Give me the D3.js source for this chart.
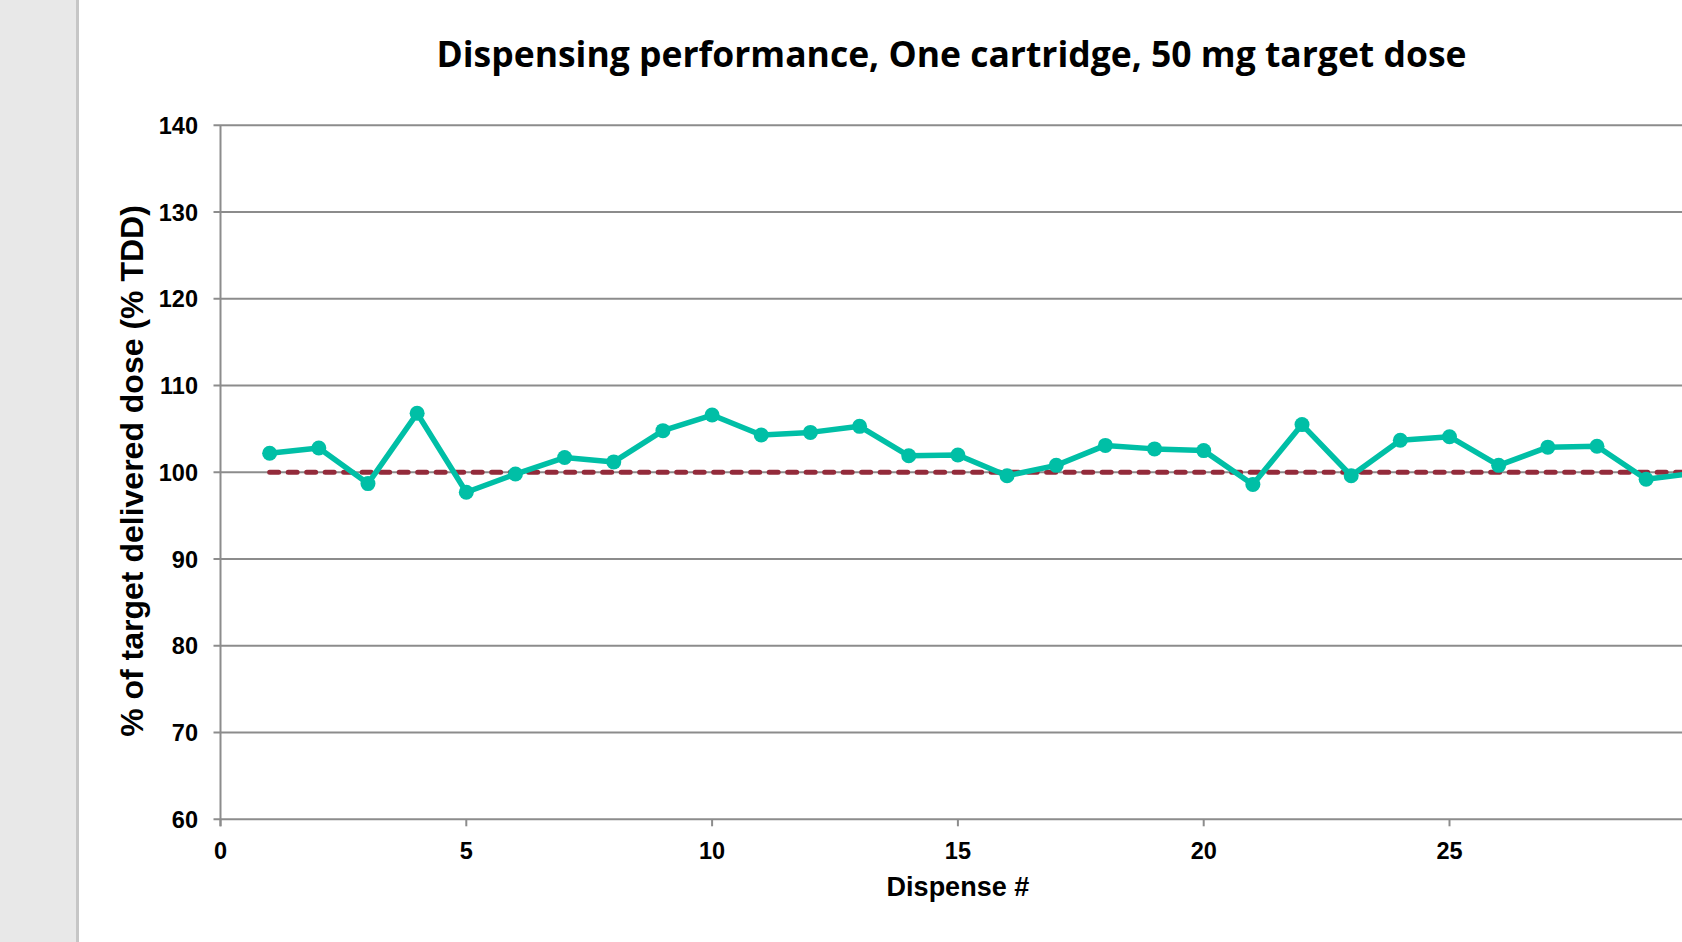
<!DOCTYPE html>
<html>
<head>
  <meta charset="utf-8">
  <style type="text/css">
      body {
        margin: 0;
        background-color: #ffffff;
      }
      svg {
        display: block;
      }
      .tick-label {
        font-family: "Liberation Sans", Arial, sans-serif;
        font-weight: bold;
        font-size: 23.5px;
        fill: #000000;
      }
  </style>
  <script src="https://d3js.org/d3.v7.min.js"></script>
</head>
<body>
  <script type="text/javascript">
      "use strict";

      /*
        Chart data
      */
      var dispenseNo = [1, 2, 3, 4, 5, 6, 7, 8, 9, 10,
                        11, 12, 13, 14, 15, 16, 17, 18, 19, 20,
                        21, 22, 23, 24, 25, 26, 27, 28, 29, 30];
      var pctTDD = [102.2, 102.8, 98.7, 106.8, 97.7, 99.8, 101.7, 101.2, 104.8, 106.6,
                    104.3, 104.6, 105.3, 101.9, 102.0, 99.6, 100.8, 103.1, 102.7, 102.5,
                    98.6, 105.5, 99.6, 103.7, 104.1, 100.8, 102.9, 103.0, 99.2, 99.9];
      var targetTDD = [100, 100, 100, 100, 100, 100, 100, 100, 100, 100,
                       100, 100, 100, 100, 100, 100, 100, 100, 100, 100,
                       100, 100, 100, 100, 100, 100, 100, 100, 100, 100];
      var yTicks = [60, 70, 80, 90, 100, 110, 120, 130, 140];
      var xTicks = [0, 5, 10, 15, 20, 25, 30];

      var chartTitle = "Dispensing performance, One cartridge, 50 mg target dose";
      var xTitle = "Dispense #";
      var yTitle = "% of target delivered dose (% TDD)";

      /*
        D3.js setup code
      */
      var width = 1682,
          height = 942;

      var svg = d3.select("body")
        .append("svg")
          .attr("width", width)
          .attr("height", height);

      // grey strip on the left of the slide
      svg.append("rect")
        .attr("x", 0)
        .attr("y", 0)
        .attr("width", 77)
        .attr("height", height)
        .attr("fill", "#e8e8e8");
      svg.append("line")
        .attr("x1", 77.5).attr("x2", 77.5)
        .attr("y1", 0).attr("y2", height)
        .attr("stroke", "#c6c6c6")
        .attr("stroke-width", 3);

      // plot area runs past the right edge of the slide (30 is cut off)
      var x = d3.scaleLinear()
        .domain([0, 30])
        .range([220.5, 1695.3]);
      var y = d3.scaleLinear()
        .domain([60, 140])
        .range([819.3, 125.3]);

      var plot = svg.append("g").attr("class", "chart");

      // horizontal gridlines + little ticks on the left
      plot.selectAll("line.grid")
        .data(yTicks)
        .enter()
        .append("line")
          .attr("class", "grid")
          .attr("x1", x(0) - 7)
          .attr("x2", width)
          .attr("y1", function(d) { return y(d); })
          .attr("y2", function(d) { return y(d); })
          .attr("stroke", "#8c8c8c")
          .attr("stroke-width", 2);

      // y axis line
      plot.append("line")
        .attr("x1", x(0)).attr("x2", x(0))
        .attr("y1", y(140)).attr("y2", y(60) + 7)
        .attr("stroke", "#8c8c8c")
        .attr("stroke-width", 2);

      // x ticks
      plot.selectAll("line.xtick")
        .data(xTicks)
        .enter()
        .append("line")
          .attr("class", "xtick")
          .attr("x1", function(d) { return x(d); })
          .attr("x2", function(d) { return x(d); })
          .attr("y1", y(60))
          .attr("y2", y(60) + 7)
          .attr("stroke", "#8c8c8c")
          .attr("stroke-width", 2);

      // tick labels
      plot.selectAll("text.ylab")
        .data(yTicks)
        .enter()
        .append("text")
          .attr("class", "tick-label ylab")
          .attr("x", 198)
          .attr("y", function(d) { return y(d) + 8.5; })
          .attr("text-anchor", "end")
          .text(function(d) { return d; });

      plot.selectAll("text.xlab")
        .data(xTicks)
        .enter()
        .append("text")
          .attr("class", "tick-label xlab")
          .attr("x", function(d) { return x(d); })
          .attr("y", 859)
          .attr("text-anchor", "middle")
          .text(function(d) { return d; });

      // target line (100 %), dashed dark red
      var line = d3.line()
        .x(function(d) { return x(d[0]); })
        .y(function(d) { return y(d[1]); });

      plot.append("path")
        .datum(d3.zip(dispenseNo, targetTDD))
        .attr("d", line)
        .attr("fill", "none")
        .attr("stroke", "#932b3b")
        .attr("stroke-width", 5)
        .attr("stroke-linecap", "round")
        .attr("stroke-dasharray", "9,9.5");

      // measured % TDD, teal with markers
      var pts = d3.zip(dispenseNo, pctTDD);

      plot.append("path")
        .datum(pts)
        .attr("d", line)
        .attr("fill", "none")
        .attr("stroke", "#00bfa6")
        .attr("stroke-width", 5.5)
        .attr("stroke-linejoin", "round");

      plot.selectAll("circle.pt")
        .data(pts)
        .enter()
        .append("circle")
          .attr("class", "pt")
          .attr("cx", function(d) { return x(d[0]); })
          .attr("cy", function(d) { return y(d[1]); })
          .attr("r", 7.5)
          .attr("fill", "#00bfa6");

      // titles
      svg.append("text")
        .attr("x", 951.5)
        .attr("y", 67)
        .attr("text-anchor", "middle")
        .attr("font-family", "'Open Sans', 'Noto Sans', sans-serif")
        .attr("font-weight", "bold")
        .attr("font-size", "35px")
        .attr("textLength", 1030)
        .attr("lengthAdjust", "spacingAndGlyphs")
        .text(chartTitle);

      svg.append("text")
        .attr("x", x(15))
        .attr("y", 896)
        .attr("text-anchor", "middle")
        .attr("font-family", "'Liberation Sans', Arial, sans-serif")
        .attr("font-weight", "bold")
        .attr("font-size", "27px")
        .text(xTitle);

      svg.append("text")
        .attr("transform", "translate(143,471) rotate(-90)")
        .attr("text-anchor", "middle")
        .attr("font-family", "'Liberation Sans', Arial, sans-serif")
        .attr("font-weight", "bold")
        .attr("font-size", "32px")
        .text(yTitle);
  </script>
</body>
</html>
